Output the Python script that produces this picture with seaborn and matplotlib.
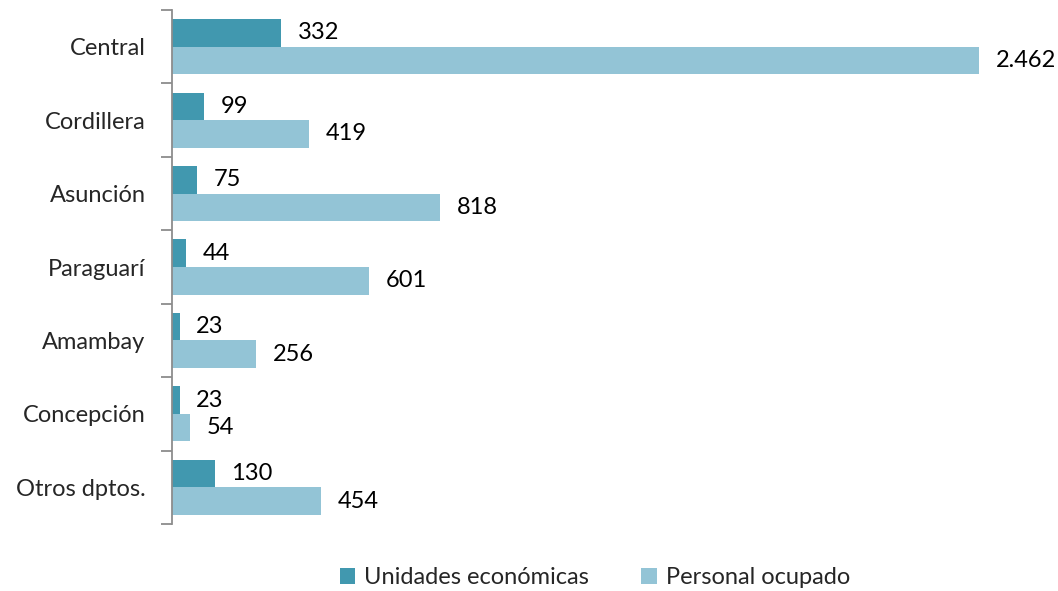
import pandas as pd
import matplotlib.pyplot as plt
import seaborn as sns

departamentos = ["Central", "Cordillera", "Asunción", "Paraguarí", "Amambay", "Concepción", "Otros dptos."]
unidades = [332, 99, 75, 44, 23, 23, 130]
personal = [2462, 419, 818, 601, 256, 54, 454]
series = ["Unidades económicas", "Personal ocupado"]
colores = ["#4198AF", "#93C4D6"]

df = pd.DataFrame({
    "departamento": departamentos * 2,
    "valor": unidades + personal,
    "serie": [series[0]] * len(departamentos) + [series[1]] * len(departamentos),
})

sns.set_style("white")
plt.rcParams["font.family"] = ["Lato", "DejaVu Sans"]

fig = plt.figure(figsize=(10.58, 5.91), dpi=100)
ax = fig.add_axes([172 / 1058, 1 - 524 / 591, (1000 - 172) / 1058, (524 - 10) / 591])

sns.barplot(data=df, y="departamento", x="valor", hue="serie", palette=colores,
            orient="h", width=0.75, saturation=1, linewidth=0, ax=ax)

for cont in ax.containers:
    labels = [f"{int(v):,}".replace(",", ".") for v in cont.datavalues]
    ax.bar_label(cont, labels=labels, padding=12, fontsize=17, color="black")

ax.set_xlim(0, 2526)
ax.set_ylim(6.5, -0.5)
ax.set_xlabel("")
ax.set_ylabel("")
ax.set_xticks([])
ax.set_yticks(range(len(departamentos)))
ax.set_yticklabels(departamentos, fontsize=17)
ax.tick_params(axis="y", which="major", left=False, length=0, pad=19)
# tick marks at category boundaries
ax.set_yticks([i - 0.5 for i in range(len(departamentos) + 1)], minor=True)
ax.tick_params(axis="y", which="minor", left=True, length=8, width=1.3, color="#8c8c8c")

for s in ["top", "right", "bottom"]:
    ax.spines[s].set_visible(False)
ax.spines["left"].set_color("#8c8c8c")
ax.spines["left"].set_linewidth(1.3)

handles, lbls = ax.get_legend_handles_labels()
ax.legend_.remove()
fig.legend(handles, lbls, loc="center", bbox_to_anchor=(595 / 1058, 1 - 578 / 591), ncol=2,
           frameon=False, fontsize=17, handlelength=0.65, handleheight=0.65,
           columnspacing=2.2, handletextpad=0.4)

fig.savefig("out.png", dpi=100)
